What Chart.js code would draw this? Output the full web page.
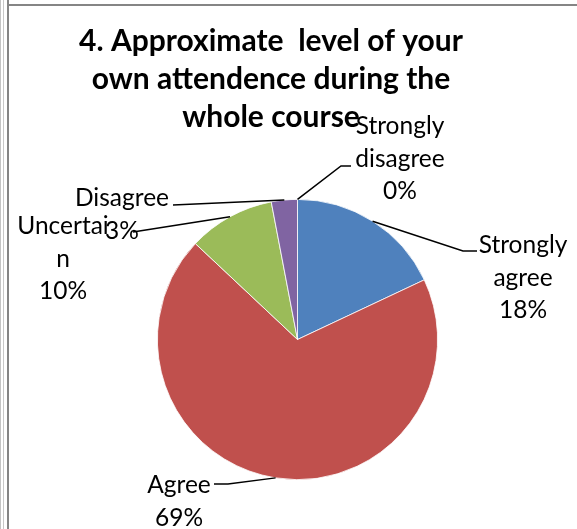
<!DOCTYPE html>
<html>
<head>
<meta charset="utf-8">
<script src="https://cdn.jsdelivr.net/npm/chart.js@4.4.1/dist/chart.umd.min.js"></script>
<style>
  body { margin: 0; background: #fff; }
  #marco { position: relative; width: 577px; height: 529px; overflow: hidden; }
  .borde { position: absolute; }
  canvas { position: absolute; left: 0; top: 0; }
</style>
</head>
<body>
<div id="marco">
  <!-- bordes de la hoja (dobles a la izquierda) -->
  <div class="borde" style="left:0;top:0;width:1px;height:529px;background:#c4c4c4"></div>
  <div class="borde" style="left:3px;top:0;width:1px;height:529px;background:#c8c8c8"></div>
  <div class="borde" style="left:7px;top:0;width:2px;height:529px;background:#858585"></div>
  <div class="borde" style="left:7px;top:4px;width:570px;height:2px;background:#858585"></div>
  <canvas id="graficoPastel" width="577" height="529"></canvas>
</div>
<script>
// Datos del gráfico
const categorias = ['Strongly agree', 'Agree', 'Uncertain', 'Disagree', 'Strongly disagree'];
const valores = [18, 69, 10, 3, 0];
const colores = ['#4F81BD', '#C0504D', '#9BBB59', '#8064A2', '#4BACC6'];

// Texto del título y de las etiquetas (tal como aparece cortado en el original)
const lineasTitulo = ['4. Approximate  level of your', 'own attendence during the', 'whole course'];
const nombresEtiqueta = [['Strongly', 'agree'], ['Agree'], ['Uncertai', 'n'], ['Disagree'], ['Strongly', 'disagree']];

// Posición de cada etiqueta: centro del texto, primera línea base y puntos de la línea guía
const posEtiquetas = [
    { cx: 523, y: 253, guia: [[463, 251], [477, 251]] },
    { cx: 179, y: 493, guia: [[228, 484], [214, 484]] },
    { cx: 63, y: 234, guia: [[133, 232]] },
    { cx: 122, y: 206, guia: [[173, 205]] },
    { cx: 400, y: 134, guia: [[341, 166], [351, 166]] }
];

const fuente = 'Lato, "Open Sans", sans-serif';
const altoLineaEtiqueta = 32.5;
const altoLineaTitulo = 38;

// Plugin que dibuja el título y las etiquetas con líneas guía
const etiquetasPlugin = {
    id: 'etiquetas',
    afterDraw(chart) {
        const ctx = chart.ctx;
        const total = valores.reduce((a, b) => a + b, 0);
        const meta = chart.getDatasetMeta(0);

        ctx.save();
        // título
        ctx.fillStyle = '#000';
        ctx.textAlign = 'center';
        ctx.textBaseline = 'alphabetic';
        ctx.font = 'bold 30px ' + fuente;
        lineasTitulo.forEach((linea, i) => {
            ctx.fillText(linea, 271, 51 + i * altoLineaTitulo);
        });

        // etiquetas
        meta.data.forEach((arco, i) => {
            const p = arco.getProps(['x', 'y', 'startAngle', 'endAngle', 'outerRadius'], true);
            const medio = (p.startAngle + p.endAngle) / 2;
            const ax = p.x + Math.cos(medio) * p.outerRadius;
            const ay = p.y + Math.sin(medio) * p.outerRadius;
            const pos = posEtiquetas[i];

            ctx.beginPath();
            ctx.moveTo(ax, ay);
            pos.guia.forEach(pt => ctx.lineTo(pt[0], pt[1]));
            ctx.strokeStyle = '#000';
            ctx.lineWidth = 1.5;
            ctx.stroke();

            const pct = Math.round(valores[i] / total * 100) + '%';
            const lineas = nombresEtiqueta[i].concat([pct]);
            ctx.font = '24.5px ' + fuente;
            ctx.fillStyle = '#000';
            lineas.forEach((texto, j) => {
                ctx.fillText(texto, pos.cx, pos.y + j * altoLineaEtiqueta);
            });
        });
        ctx.restore();
    }
};

const ctx = document.getElementById('graficoPastel').getContext('2d');
new Chart(ctx, {
    type: 'pie',
    data: {
        labels: categorias,
        datasets: [{
            data: valores,
            backgroundColor: colores,
            borderColor: '#ffffff',
            borderWidth: 0.8
        }]
    },
    options: {
        responsive: false,
        animation: false,
        layout: {
            padding: { left: 157, right: 139, top: 199, bottom: 49 }
        },
        plugins: {
            legend: { display: false },
            title: { display: false },
            tooltip: { enabled: false }
        }
    },
    plugins: [etiquetasPlugin]
});
</script>
</body>
</html>
